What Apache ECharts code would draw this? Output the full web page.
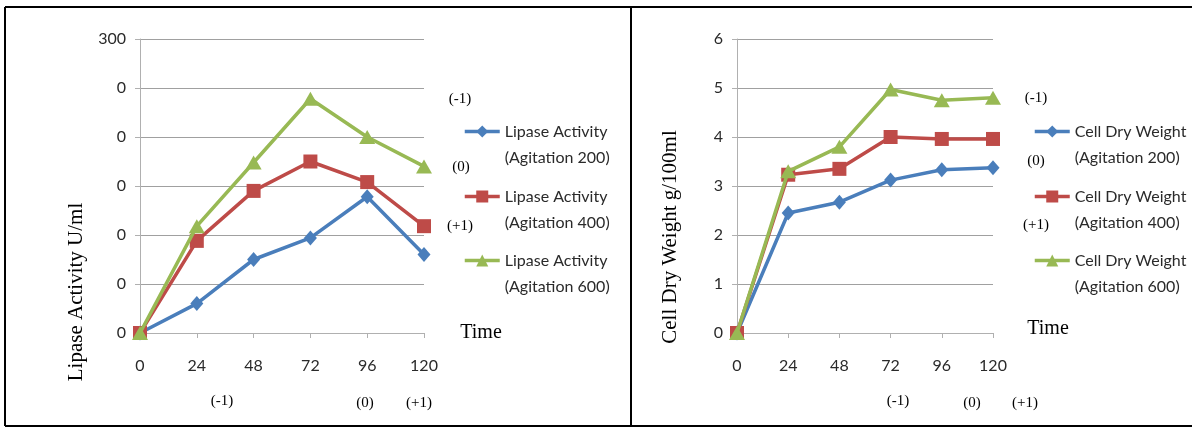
<!DOCTYPE html>
<html>
<head>
<meta charset="utf-8">
<script src="https://cdn.jsdelivr.net/npm/echarts@6/dist/echarts.min.js"></script>
<style>
  html, body { margin: 0; padding: 0; background: #ffffff; }
  #chart { width: 1192px; height: 428px; }
</style>
</head>
<body>
<div id="chart"></div>
<script>
// ---- data ----
const timeLabels = ['0', '24', '48', '72', '96', '120'];

const lipaseNames = ['Lipase Activity (Agitation 200)', 'Lipase Activity (Agitation 400)', 'Lipase Activity (Agitation 600)'];
const lipase200 = [0, 30, 75, 97, 139, 80];
const lipase400 = [0, 94, 145, 175, 154, 109];
const lipase600 = [0, 109, 174, 239, 200, 170];
const lipaseTickLabels = ['0', '0', '0', '0', '0', '0', '300'];

const cdwNames = ['Cell Dry Weight (Agitation 200)', 'Cell Dry Weight (Agitation 400)', 'Cell Dry Weight (Agitation 600)'];
const cdw200 = [0, 2.45, 2.67, 3.12, 3.33, 3.37];
const cdw400 = [0, 3.23, 3.35, 4.0, 3.96, 3.96];
const cdw600 = [0, 3.30, 3.80, 4.97, 4.75, 4.80];
const cdwTickLabels = ['0', '1', '2', '3', '4', '5', '6'];

const leftYName = 'Lipase Activity U/ml';
const rightYName = 'Cell Dry Weight g/100ml';
const xName = 'Time';
const levelSideLabels = ['(-1)', '(0)', '(+1)'];
const levelBottomLabels = ['(-1)', '(0)', '(+1)'];

// ---- styles ----
const colors = ['#4a7ebb', '#be4b48', '#98b954'];
const symbols = ['diamond', 'rect', 'triangle'];
const symbolSizes = [[13, 15], 14, [16, 14]];
const sansFont = 'Lato, "Open Sans", sans-serif';
const serifFont = '"Liberation Serif", "DejaVu Serif", serif';
const axisGrey = '#b0b0b0';
const gridGrey = '#a0a0a0';

function makeX(gi) {
  return {
    type: 'category', gridIndex: gi, data: timeLabels, boundaryGap: false,
    axisLine: { show: true, lineStyle: { color: axisGrey, width: 1 } },
    axisTick: { show: true, length: 5, lineStyle: { color: axisGrey } },
    axisLabel: { margin: 25, fontFamily: sansFont, fontSize: 16, color: '#2a2a2a' },
    splitLine: { show: false }
  };
}
function makeY(gi, max, interval, labels) {
  return {
    type: 'value', gridIndex: gi, min: 0, max: max, interval: interval,
    axisLine: { show: true, lineStyle: { color: axisGrey, width: 1 } },
    axisTick: { show: true, length: 5, lineStyle: { color: axisGrey } },
    axisLabel: {
      margin: 14, fontFamily: sansFont, fontSize: 16, color: '#2a2a2a',
      formatter: function (v) { return labels[Math.round(v / interval)]; }
    },
    splitLine: { show: true, lineStyle: { color: gridGrey, width: 1 } }
  };
}
function makeSeries(name, data, i, gi) {
  return {
    type: 'line', name: name, data: data, xAxisIndex: gi, yAxisIndex: gi,
    symbol: symbols[i], symbolSize: symbolSizes[i], showAllSymbol: true,
    lineStyle: { color: colors[i], width: 3.5 },
    itemStyle: { color: colors[i] },
    z: 2 + i
  };
}
function makeLegend(name, left, top) {
  return {
    data: [name], left: left, top: top, orient: 'vertical', padding: 0,
    itemWidth: 35, itemHeight: 15, selectedMode: false,
    lineStyle: { width: 3.5 },
    formatter: function (n) { return '\n' + n.replace(' (', '\n('); },
    textStyle: { fontFamily: sansFont, fontSize: 16, lineHeight: 26, color: '#2a2a2a' }
  };
}
function txt(text, x, y, size, rotation) {
  return {
    type: 'text', x: x, y: y, rotation: rotation || 0,
    style: { text: text, font: size + 'px ' + serifFont, fill: '#000', align: 'center', verticalAlign: 'middle' }
  };
}
function line(x1, y1, x2, y2) {
  return { type: 'line', shape: { x1: x1, y1: y1, x2: x2, y2: y2 }, style: { stroke: '#000', lineWidth: 2 } };
}

const legendTops = [92.5, 157.5, 221.5];

const option = {
  animation: false,
  backgroundColor: '#ffffff',
  grid: [
    { left: 140, top: 39, width: 284, height: 294 },
    { left: 737, top: 39, width: 256, height: 294 }
  ],
  xAxis: [makeX(0), makeX(1)],
  yAxis: [makeY(0, 300, 50, lipaseTickLabels), makeY(1, 6, 1, cdwTickLabels)],
  legend: [
    makeLegend(lipaseNames[0], 463, legendTops[0]),
    makeLegend(lipaseNames[1], 463, legendTops[1]),
    makeLegend(lipaseNames[2], 463, legendTops[2]),
    makeLegend(cdwNames[0], 1033, legendTops[0]),
    makeLegend(cdwNames[1], 1033, legendTops[1]),
    makeLegend(cdwNames[2], 1033, legendTops[2])
  ],
  series: [
    makeSeries(lipaseNames[0], lipase200, 0, 0),
    makeSeries(lipaseNames[1], lipase400, 1, 0),
    makeSeries(lipaseNames[2], lipase600, 2, 0),
    makeSeries(cdwNames[0], cdw200, 0, 1),
    makeSeries(cdwNames[1], cdw400, 1, 1),
    makeSeries(cdwNames[2], cdw600, 2, 1)
  ],
  graphic: [
    line(5, 7, 1192, 7),
    line(5, 7, 5, 426),
    line(5, 426, 1192, 426),
    line(631, 7, 631, 426),
    txt(leftYName, 76, 292, 21, Math.PI / 2),
    txt(rightYName, 670, 237, 21, Math.PI / 2),
    txt(xName, 481, 333, 20),
    txt(xName, 1048, 329, 20),
    txt(levelSideLabels[0], 460, 99, 15),
    txt(levelSideLabels[1], 461, 167, 15),
    txt(levelSideLabels[2], 460, 226, 15),
    txt(levelBottomLabels[0], 222, 401, 15),
    txt(levelBottomLabels[1], 365, 403, 15),
    txt(levelBottomLabels[2], 419, 403, 15),
    txt(levelSideLabels[0], 1036, 98, 15),
    txt(levelSideLabels[1], 1036, 161, 15),
    txt(levelSideLabels[2], 1036, 225, 15),
    txt(levelBottomLabels[0], 898, 401, 15),
    txt(levelBottomLabels[1], 972, 403, 15),
    txt(levelBottomLabels[2], 1025, 403, 15)
  ]
};

const chart = echarts.init(document.getElementById('chart'), null, { renderer: 'canvas' });
chart.setOption(option);
</script>
</body>
</html>
